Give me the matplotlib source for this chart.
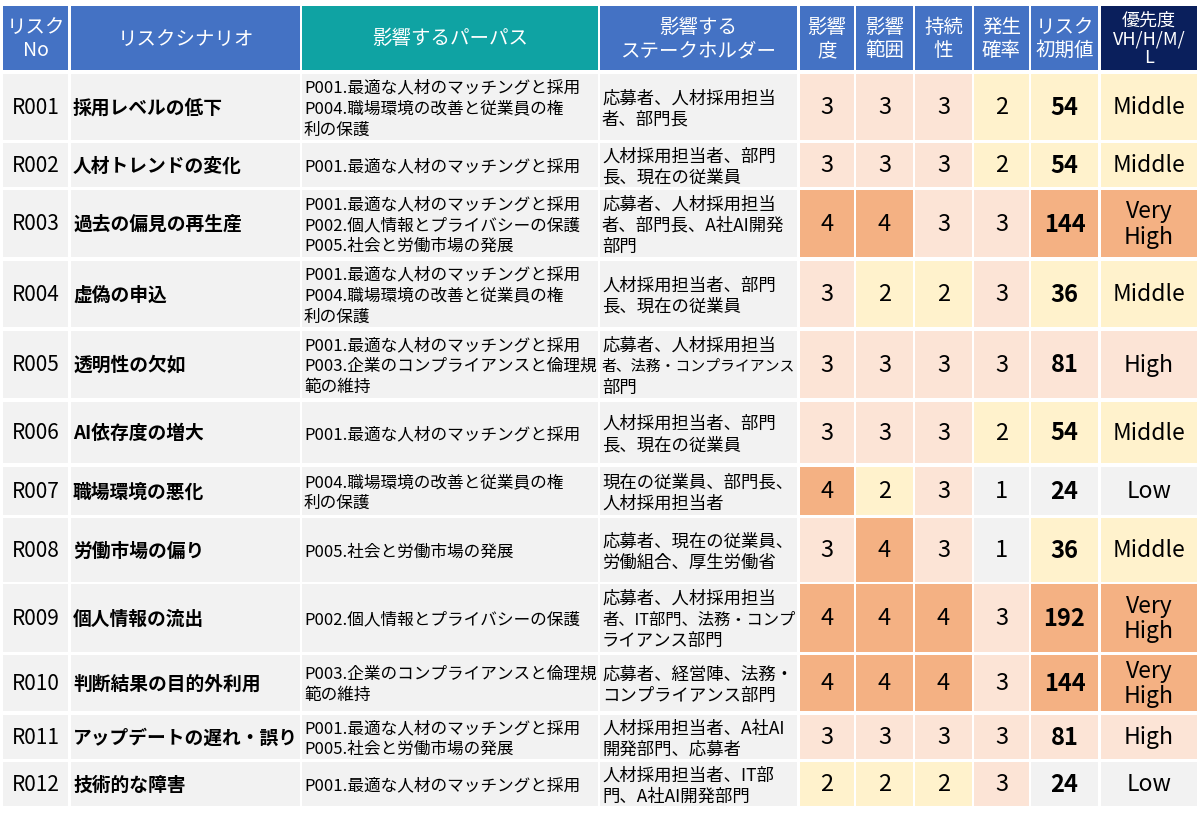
import matplotlib
matplotlib.use('Agg')
import matplotlib.pyplot as plt
from matplotlib.patches import Rectangle

plt.rcParams['font.family'] = ['Noto Sans CJK JP', 'DejaVu Sans']

risk_no = ['R001', 'R002', 'R003', 'R004', 'R005', 'R006',
           'R007', 'R008', 'R009', 'R010', 'R011', 'R012']
scenarios = ['採用レベルの低下', '人材トレンドの変化', '過去の偏見の再生産', '虚偽の申込',
             '透明性の欠如', 'AI依存度の増大', '職場環境の悪化', '労働市場の偏り',
             '個人情報の流出', '判断結果の目的外利用', 'アップデートの遅れ・誤り', '技術的な障害']
purposes = [
    'P001.最適な人材のマッチングと採用\nP004.職場環境の改善と従業員の権\n利の保護',
    'P001.最適な人材のマッチングと採用',
    'P001.最適な人材のマッチングと採用\nP002.個人情報とプライバシーの保護\nP005.社会と労働市場の発展',
    'P001.最適な人材のマッチングと採用\nP004.職場環境の改善と従業員の権\n利の保護',
    'P001.最適な人材のマッチングと採用\nP003.企業のコンプライアンスと倫理規\n範の維持',
    'P001.最適な人材のマッチングと採用',
    'P004.職場環境の改善と従業員の権\n利の保護',
    'P005.社会と労働市場の発展',
    'P002.個人情報とプライバシーの保護',
    'P003.企業のコンプライアンスと倫理規\n範の維持',
    'P001.最適な人材のマッチングと採用\nP005.社会と労働市場の発展',
    'P001.最適な人材のマッチングと採用',
]
stakeholders = [
    '応募者、人材採用担当\n者、部門長',
    '人材採用担当者、部門\n長、現在の従業員',
    '応募者、人材採用担当\n者、部門長、A社AI開発\n部門',
    '人材採用担当者、部門\n長、現在の従業員',
    '応募者、人材採用担当\n者、法務・コンプライアンス\n部門',
    '人材採用担当者、部門\n長、現在の従業員',
    '現在の従業員、部門長、\n人材採用担当者',
    '応募者、現在の従業員、\n労働組合、厚生労働省',
    '応募者、人材採用担当\n者、IT部門、法務・コンプ\nライアンス部門',
    '応募者、経営陣、法務・\nコンプライアンス部門',
    '人材採用担当者、A社AI\n開発部門、応募者',
    '人材採用担当者、IT部\n門、A社AI開発部門',
]
impact = [3, 3, 4, 3, 3, 3, 4, 3, 4, 4, 3, 2]
scope = [3, 3, 4, 2, 3, 3, 2, 4, 4, 4, 3, 2]
duration = [3, 3, 3, 2, 3, 3, 3, 3, 4, 4, 3, 2]
probability = [2, 2, 3, 3, 3, 2, 1, 1, 3, 3, 3, 3]
risk_value = [54, 54, 144, 36, 81, 54, 24, 36, 192, 144, 81, 24]
priority = ['Middle', 'Middle', 'Very\nHigh', 'Middle', 'High', 'Middle',
            'Low', 'Middle', 'Very\nHigh', 'Very\nHigh', 'High', 'Low']

headers = ['リスク\nNo', 'リスクシナリオ', '影響するパーパス', '影響する\nステークホルダー',
           '影響\n度', '影響\n範囲', '持続\n性', '発生\n確率', 'リスク\n初期値', '優先度\nVH/H/M/\nL']

# --- layout (pixels) ---
col_x = [(3, 68), (71, 300), (302, 598), (600, 797), (800, 854),
         (856, 913), (915, 972), (974, 1029), (1031, 1098), (1101, 1197)]
header_y = (7, 71)
row_y = [(75, 141), (144, 188), (191, 258), (262, 328), (332, 399), (403, 464),
         (468, 516), (519, 583), (585, 653), (656, 712), (716, 760), (763, 807)]

BLUE = '#4472C4'
TEAL = '#0FA3A3'
NAVY = '#0A1F5C'
GREY = '#F2F2F2'
score_colors = {4: '#F4B183', 3: '#FCE4D6', 2: '#FFF2CC', 1: '#F2F2F2'}
priority_colors = {'Very\nHigh': '#F4B183', 'High': '#FCE4D6', 'Middle': '#FFF2CC', 'Low': '#F2F2F2'}


def risk_color(v):
    if v >= 100:
        return '#F4B183'
    if v >= 60:
        return '#FCE4D6'
    if v >= 30:
        return '#FFF2CC'
    return '#F2F2F2'


fig = plt.figure(figsize=(12, 8.2), dpi=100)
ax = fig.add_axes([0, 0, 1, 1])
ax.set_xlim(0, 1200)
ax.set_ylim(820, 0)
ax.axis('off')
renderer = fig.canvas.get_renderer()


def box(ci, ys, color):
    x0, x1 = col_x[ci]
    y0, y1 = ys
    ax.add_patch(Rectangle((x0, y0), x1 - x0, y1 - y0, facecolor=color, edgecolor='none'))


def cell(ci, ys, color, text, size, weight='normal', ha='center', tcolor='black', ls=1.1):
    box(ci, ys, color)
    x0, x1 = col_x[ci]
    tx = (x0 + x1) / 2 if ha == 'center' else x0 + 2
    ax.text(tx, (ys[0] + ys[1]) / 2, text, ha=ha, va='center', fontsize=size,
            fontweight=weight, color=tcolor, linespacing=ls)


def text_cell(ci, ys, text, size, step=21):
    # left aligned, one Text per line so a long line can be shrunk on its own
    box(ci, ys, GREY)
    x0, x1 = col_x[ci]
    lines = text.split('\n')
    yc = (ys[0] + ys[1]) / 2 + 1
    for k, line in enumerate(lines):
        y = yc + (k - (len(lines) - 1) / 2) * step
        t = ax.text(x0 + 2, y, line, ha='left', va='center', fontsize=size)
        w = t.get_window_extent(renderer).width
        if w > (x1 - x0) - 3:
            t.set_fontsize(size * ((x1 - x0) - 3) / w)


# header
for ci, h in enumerate(headers):
    bg = BLUE
    if ci == 2:
        bg = TEAL
    elif ci == 9:
        bg = NAVY
    if ci == 9:
        cell(ci, header_y, bg, h, 13, tcolor='white', ls=1.05)
    else:
        cell(ci, header_y, bg, h, 14, tcolor='white', ls=1.15)

# body
for i in range(len(risk_no)):
    ys = row_y[i]
    cell(0, ys, GREY, risk_no[i], 15)
    cell(1, ys, GREY, scenarios[i], 13.5, weight='bold', ha='left')
    text_cell(2, ys, purposes[i], 12)
    text_cell(3, ys, stakeholders[i], 12.5)
    cell(4, ys, score_colors[impact[i]], str(impact[i]), 17)
    cell(5, ys, score_colors[scope[i]], str(scope[i]), 17)
    cell(6, ys, score_colors[duration[i]], str(duration[i]), 17)
    cell(7, ys, score_colors[probability[i]], str(probability[i]), 17)
    cell(8, ys, risk_color(risk_value[i]), str(risk_value[i]), 17, weight='bold')
    cell(9, ys, priority_colors[priority[i]], priority[i], 16.5, ls=1.15)

fig.savefig('out.png', dpi=100)
